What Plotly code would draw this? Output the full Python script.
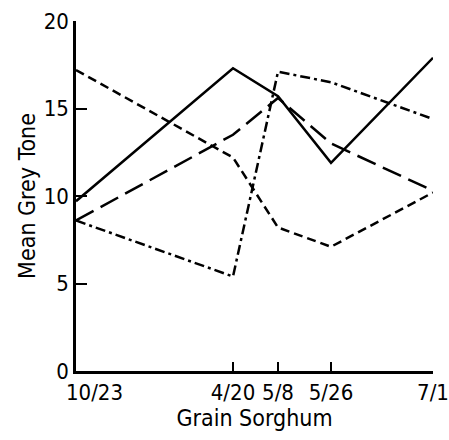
import plotly.graph_objects as go

# Sampling dates and their spacing along the horizontal axis
dates = ["10/23", "4/20", "5/8", "5/26", "7/1"]
date_pos = [0, 157, 202, 255, 357]

# Mean grey tone for each of the four curves
solid_vals = [9.7, 17.3, 15.7, 11.9, 17.9]
long_dash_vals = [8.6, 13.5, 15.6, 13.0, 10.3]
short_dash_vals = [17.2, 12.2, 8.2, 7.1, 10.2]
dash_dot_vals = [8.6, 5.4, 17.1, 16.5, 14.4]

y_ticks = [0, 5, 10, 15, 20]

series = [
    (solid_vals, "solid"),
    (long_dash_vals, "20px,8px"),
    (short_dash_vals, "9px,5px"),
    (dash_dot_vals, "10px,4px,3px,4px"),
]

fig = go.Figure()
for vals, dash in series:
    fig.add_trace(go.Scatter(
        x=date_pos, y=vals, mode="lines",
        line=dict(color="black", width=2.5, dash=dash),
        showlegend=False, cliponaxis=False,
    ))

tick_font = dict(family="DejaVu Sans Condensed, sans-serif", size=22, color="black")
title_font = dict(family="DejaVu Sans Condensed, sans-serif", size=23, color="black")

# the first date label sits just right of the origin so it clears the "0"
fig.add_annotation(
    x=date_pos[0], y=0, xref="x", yref="paper",
    text=dates[0], showarrow=False, font=tick_font,
    xanchor="left", yanchor="top", xshift=-12, yshift=-7,
)

fig.update_layout(
    width=449, height=440,
    margin=dict(l=76, r=16, t=21, b=69),
    paper_bgcolor="white", plot_bgcolor="white",
    xaxis=dict(
        range=[0, 357], showgrid=False, zeroline=False, automargin=False,
        showline=True, linecolor="black", linewidth=2.5,
        tickmode="array", tickvals=date_pos,
        ticktext=[""] + dates[1:],
        ticks="inside", ticklen=9, tickwidth=2, tickcolor="black",
        tickfont=tick_font, ticklabeloverflow="allow",
        title=dict(text="Grain Sorghum", font=title_font, standoff=3),
    ),
    yaxis=dict(
        range=[0, 20], showgrid=False, zeroline=False, automargin=False,
        showline=True, linecolor="black", linewidth=2.5,
        tickmode="array", tickvals=y_ticks,
        ticks="inside", ticklen=11, tickwidth=2, tickcolor="black",
        tickfont=tick_font,
        title=dict(text="Mean Grey Tone", font=title_font, standoff=2),
    ),
)

fig.write_html("out.html")
